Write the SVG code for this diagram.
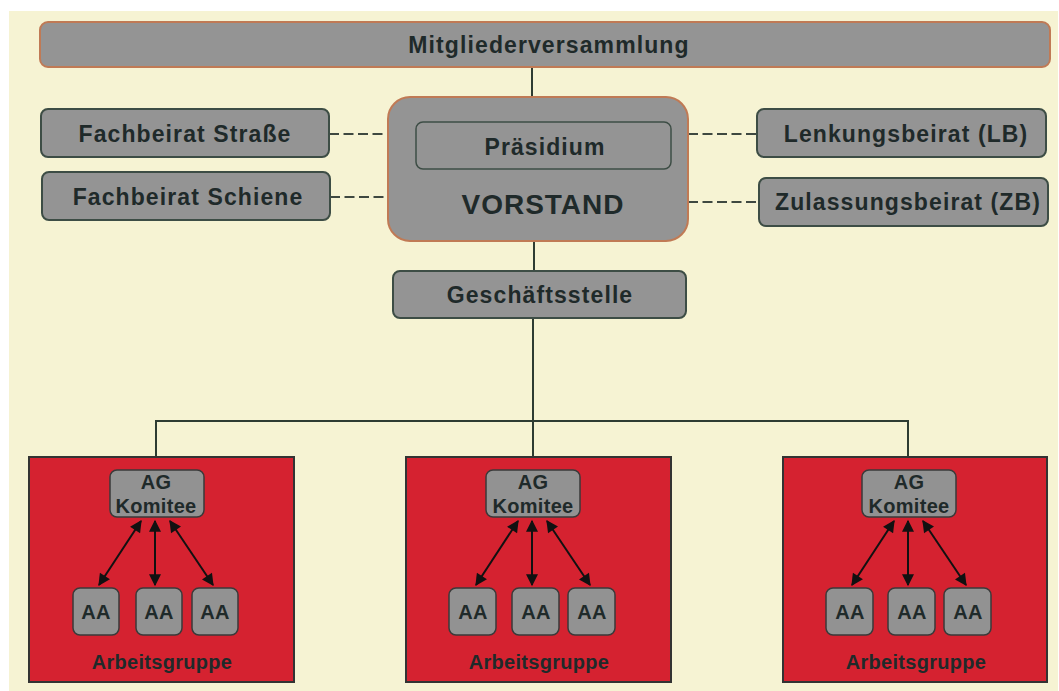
<svg xmlns="http://www.w3.org/2000/svg" width="1059" height="691" viewBox="0 0 1059 691">
<defs>
<style>
.bg{fill:#f6f3d3}
.n{fill:#949494;stroke:#3d4d45;stroke-width:2}
.no{fill:#949494;stroke:#c07a55;stroke-width:2}
.s{fill:#929292;stroke:#3a3a3a;stroke-width:1.5}
.red{fill:#d52230;stroke:#333;stroke-width:2}
.t{font-family:"Liberation Sans",Arial,sans-serif;font-weight:bold;fill:#1f2a2a;text-anchor:middle;dominant-baseline:central}
.t22{font-size:23px;letter-spacing:1.1px}
.t20{font-size:20px;letter-spacing:0.3px}
.line{stroke:#2e3c32;stroke-width:2;fill:none}
.dash{stroke:#3e4840;stroke-width:2;fill:none;stroke-dasharray:10 4.5}
.arr{stroke:#111;stroke-width:2;fill:none;marker-start:url(#ah);marker-end:url(#ah)}
</style>
<marker id="ah" viewBox="0 0 10 10" refX="9" refY="5" markerWidth="7" markerHeight="6" orient="auto-start-reverse" markerUnits="strokeWidth">
<path d="M0,0 L10,5 L0,10 z" fill="#111"/>
</marker>
</defs>
<rect x="0" y="0" width="1059" height="691" fill="#ffffff"/>
<rect class="bg" x="9" y="11" width="1049" height="680"/>

<g id="connectors">
<line class="line" x1="532" y1="67" x2="532" y2="97"/>
<line class="line" x1="534" y1="241" x2="534" y2="271"/>
<line class="line" x1="533" y1="318" x2="533" y2="457"/>
<polyline class="line" points="156,457 156,421 908,421 908,457"/>
<line class="dash" x1="329" y1="134" x2="388" y2="134"/>
<line class="dash" x1="330" y1="197" x2="388" y2="197"/>
<line class="dash" x1="688" y1="134" x2="757" y2="134"/>
<line class="dash" x1="688" y1="202" x2="759" y2="202"/>
</g>

<g id="mitgliederversammlung">
<rect class="no" x="40" y="22" width="1010" height="45" rx="8"/>
<text class="t t22" x="549" y="45">Mitgliederversammlung</text>
</g>
<g id="fachbeirat-strasse">
<rect class="n" x="41" y="109" width="288" height="48" rx="7"/>
<text class="t t22" x="185" y="134">Fachbeirat Straße</text>
</g>
<g id="fachbeirat-schiene">
<rect class="n" x="42" y="172" width="288" height="48" rx="7"/>
<text class="t t22" x="188" y="197">Fachbeirat Schiene</text>
</g>
<g id="vorstand">
<rect class="no" x="388" y="97" width="300" height="144" rx="22"/>
<text class="t" x="543" y="204" style="font-size:28px;letter-spacing:1px">VORSTAND</text>
</g>
<g id="praesidium">
<rect class="n" x="416" y="122" width="255" height="47" rx="7" style="stroke-width:1.5"/>
<text class="t t22" x="545" y="147">Präsidium</text>
</g>
<g id="lenkungsbeirat">
<rect class="n" x="757" y="109" width="289" height="48" rx="7"/>
<text class="t t22" x="906" y="134">Lenkungsbeirat (LB)</text>
</g>
<g id="zulassungsbeirat">
<rect class="n" x="759" y="178" width="289" height="48" rx="7"/>
<text class="t t22" x="908" y="202">Zulassungsbeirat (ZB)</text>
</g>
<g id="geschaeftsstelle">
<rect class="n" x="393" y="271" width="293" height="47" rx="7"/>
<text class="t t22" x="540" y="295">Geschäftsstelle</text>
</g>

<g id="arbeitsgruppe-1">
<rect class="red" x="29" y="457" width="265" height="225"/>
<text class="t t20" x="162" y="662">Arbeitsgruppe</text>
<g id="ag-komitee-1">
<rect class="s" x="110" y="470" width="94" height="47" rx="7"/>
<text class="t t20" x="156" y="482">AG</text>
<text class="t t20" x="156" y="506">Komitee</text>
</g>
<g id="aa-1-1"><rect class="s" x="73" y="588" width="46" height="47" rx="7"/><text class="t t20" x="96" y="612">AA</text></g>
<g id="aa-1-2"><rect class="s" x="136" y="588" width="46" height="47" rx="7"/><text class="t t20" x="159" y="612">AA</text></g>
<g id="aa-1-3"><rect class="s" x="192" y="588" width="46" height="47" rx="7"/><text class="t t20" x="215" y="612">AA</text></g>
<g class="arrows">
<line class="arr" x1="141" y1="521" x2="99" y2="585"/>
<line class="arr" x1="155" y1="521" x2="155" y2="585"/>
<line class="arr" x1="170" y1="521" x2="213" y2="585"/>
</g>
</g>

<g id="arbeitsgruppe-2">
<rect class="red" x="406" y="457" width="265" height="225"/>
<text class="t t20" x="539" y="662">Arbeitsgruppe</text>
<g id="ag-komitee-2">
<rect class="s" x="486" y="470" width="94" height="47" rx="7"/>
<text class="t t20" x="533" y="482">AG</text>
<text class="t t20" x="533" y="506">Komitee</text>
</g>
<g id="aa-2-1"><rect class="s" x="449" y="588" width="47" height="47" rx="7"/><text class="t t20" x="473" y="612">AA</text></g>
<g id="aa-2-2"><rect class="s" x="512" y="588" width="47" height="47" rx="7"/><text class="t t20" x="536" y="612">AA</text></g>
<g id="aa-2-3"><rect class="s" x="568" y="588" width="47" height="47" rx="7"/><text class="t t20" x="592" y="612">AA</text></g>
<g class="arrows">
<line class="arr" x1="518" y1="521" x2="476" y2="585"/>
<line class="arr" x1="532" y1="521" x2="532" y2="585"/>
<line class="arr" x1="547" y1="521" x2="590" y2="585"/>
</g>
</g>

<g id="arbeitsgruppe-3">
<rect class="red" x="783" y="457" width="264" height="225"/>
<text class="t t20" x="916" y="662">Arbeitsgruppe</text>
<g id="ag-komitee-3">
<rect class="s" x="862" y="470" width="94" height="47" rx="7"/>
<text class="t t20" x="909" y="482">AG</text>
<text class="t t20" x="909" y="506">Komitee</text>
</g>
<g id="aa-3-1"><rect class="s" x="826" y="588" width="47" height="47" rx="7"/><text class="t t20" x="850" y="612">AA</text></g>
<g id="aa-3-2"><rect class="s" x="888" y="588" width="47" height="47" rx="7"/><text class="t t20" x="912" y="612">AA</text></g>
<g id="aa-3-3"><rect class="s" x="944" y="588" width="47" height="47" rx="7"/><text class="t t20" x="968" y="612">AA</text></g>
<g class="arrows">
<line class="arr" x1="894" y1="521" x2="852" y2="585"/>
<line class="arr" x1="908" y1="521" x2="908" y2="585"/>
<line class="arr" x1="923" y1="521" x2="966" y2="585"/>
</g>
</g>
</svg>
